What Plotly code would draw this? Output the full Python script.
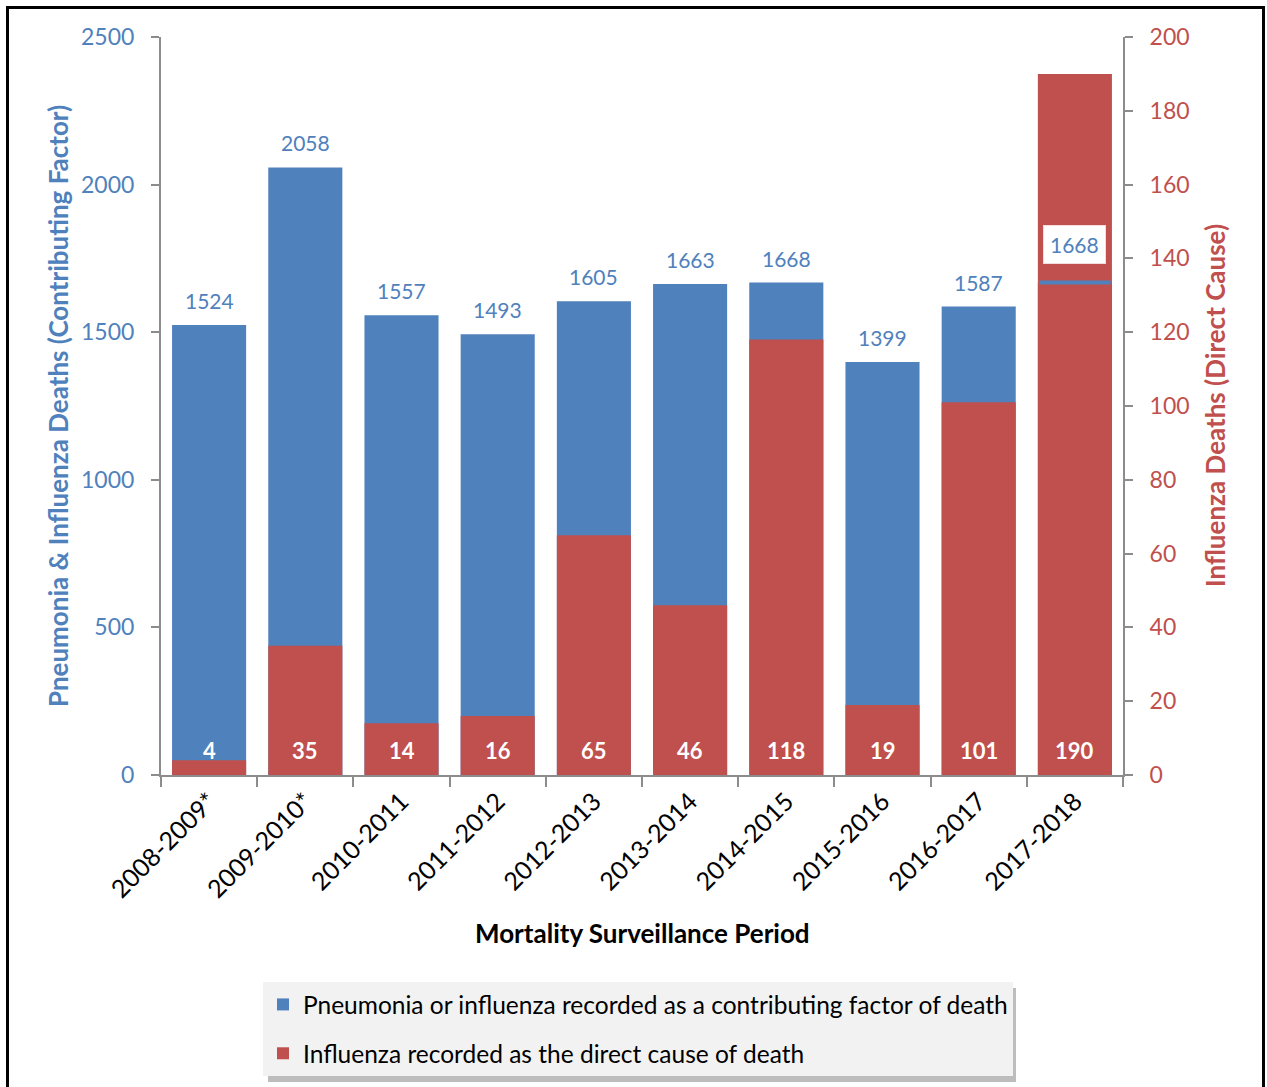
import plotly.graph_objects as go

# Mortality surveillance data
periods = ["2008-2009*", "2009-2010*", "2010-2011", "2011-2012", "2012-2013",
           "2013-2014", "2014-2015", "2015-2016", "2016-2017", "2017-2018"]
contributing = [1524, 2058, 1557, 1493, 1605, 1663, 1668, 1399, 1587, 1668]
direct = [4, 35, 14, 16, 65, 46, 118, 19, 101, 190]

left_ticks = [0, 500, 1000, 1500, 2000, 2500]
right_ticks = [0, 20, 40, 60, 80, 100, 120, 140, 160, 180, 200]

BLUE = "#4f81bd"
RED = "#c0504d"
GRID = "#8c8c8c"
FONT = "Lato"

W, H = 1267, 1087
L, R, T, B = 161, 1123, 37, 775


def px(x):
    return (x - L) / (R - L)


def py(y):
    return (B - y) / (B - T)


fig = go.Figure()

fig.add_trace(go.Bar(
    x=periods, y=contributing, name="Pneumonia or influenza recorded as a contributing factor of death",
    marker=dict(color=BLUE, line=dict(width=0)), yaxis="y", legendgroup="a",
))
fig.add_trace(go.Bar(
    x=periods, y=direct, name="Influenza recorded as the direct cause of death",
    marker=dict(color=RED, line=dict(width=0)), yaxis="y2", legendgroup="b",
))

# Contributing-factor level marker where the direct-cause bar hides it
hidden = [i for i in range(len(periods))
          if direct[i] / 200 >= contributing[i] / 2500]
fig.add_trace(go.Scatter(
    x=[periods[i] for i in hidden], y=[contributing[i] for i in hidden],
    mode="markers", yaxis="y3", showlegend=False, hoverinfo="skip",
    marker=dict(symbol="line-ew", size=51, line=dict(width=4, color=BLUE)),
))

annotations = []
for i, p in enumerate(periods):
    is_hidden = i in hidden
    annotations.append(dict(
        x=p, y=contributing[i], xref="x", yref="y", yanchor="bottom",
        yshift=12 if not is_hidden else 19,
        text=str(contributing[i]), showarrow=False,
        font=dict(family=FONT, size=21, color=BLUE),
        bgcolor="white" if is_hidden else None,
        bordercolor="#f4dcdc" if is_hidden else None,
        borderwidth=1 if is_hidden else 0, borderpad=6 if is_hidden else 0,
    ))
    annotations.append(dict(
        x=p, y=0, xref="x", yref="y2", yanchor="bottom", yshift=9,
        text="<b>%d</b>" % direct[i], showarrow=False,
        font=dict(family=FONT, size=22, color="white"),
    ))

annotations += [
    dict(x=px(58), y=0.5, xref="paper", yref="paper", textangle=-90,
         xanchor="center", yanchor="middle",
         text="<b>Pneumonia & Influenza Deaths (Contributing Factor)</b>",
         showarrow=False, font=dict(family=FONT, size=26, color=BLUE)),
    dict(x=px(1215), y=0.5, xref="paper", yref="paper", textangle=-90,
         xanchor="center", yanchor="middle",
         text="<b>Influenza Deaths (Direct Cause)</b>",
         showarrow=False, font=dict(family=FONT, size=26, color=RED)),
    dict(x=px(642), y=py(933), xref="paper", yref="paper",
         xanchor="center", yanchor="middle",
         text="<b>Mortality Surveillance Period</b>",
         showarrow=False, font=dict(family=FONT, size=26, color="black")),
]

shapes = [
    # legend drop shadow
    dict(type="rect", xref="paper", yref="paper", layer="below",
         x0=px(268), x1=px(1016), y0=py(988), y1=py(1082),
         fillcolor="#bdbdbd", line=dict(width=0)),
    # outer frame
    dict(type="rect", xref="paper", yref="paper",
         x0=px(7.5), x1=px(1263.5), y0=py(1100), y1=py(7.5),
         line=dict(color="black", width=3), fillcolor="rgba(0,0,0,0)"),
]

axis_font = dict(family=FONT, size=23)
fig.update_layout(
    width=W, height=H,
    margin=dict(l=L, r=W - R, t=T, b=H - B, autoexpand=False),
    paper_bgcolor="white", plot_bgcolor="white",
    barmode="overlay", bargap=0.23,
    showlegend=True,
    xaxis=dict(
        type="category", range=[-0.5, len(periods) - 0.5],
        tickangle=-45, tickson="boundaries",
        ticks="outside", ticklen=10, tickwidth=2, tickcolor=GRID,
        showline=True, linecolor=GRID, linewidth=2, showgrid=False,
        tickfont=dict(family=FONT, size=25, color="black"),
    ),
    yaxis=dict(
        range=[0, 2500], tickvals=left_ticks, ticks="outside", ticklen=8,
        tickwidth=2, tickcolor=GRID, showline=True, linecolor=GRID, linewidth=2,
        showgrid=False, zeroline=False, ticklabelstandoff=12,
        tickfont=dict(axis_font, color=BLUE),
    ),
    yaxis2=dict(
        range=[0, 200], tickvals=right_ticks, overlaying="y", side="right",
        ticks="outside", ticklen=8, tickwidth=2, tickcolor=GRID,
        showline=True, linecolor=GRID, linewidth=2, showgrid=False,
        zeroline=False, ticklabelstandoff=12,
        tickfont=dict(axis_font, color=RED),
    ),
    yaxis3=dict(range=[0, 2500], overlaying="y", visible=False),
    legend=dict(
        x=px(263), y=py(982), xanchor="left", yanchor="top",
        bgcolor="#f2f2f2", borderwidth=0, traceorder="grouped",
        tracegroupgap=14, font=dict(family=FONT, size=24.5, color="black"),
        itemwidth=30,
    ),
    annotations=annotations,
    shapes=shapes,
)

fig.write_html("out.html")
